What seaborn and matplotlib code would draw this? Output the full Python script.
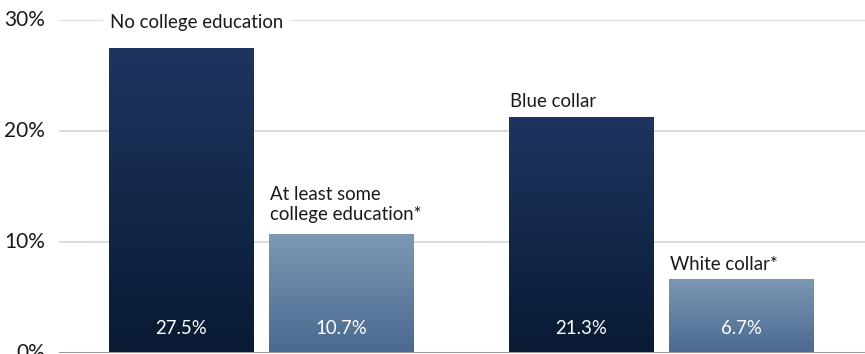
import numpy as np
import pandas as pd
import matplotlib
matplotlib.use("Agg")
import matplotlib.pyplot as plt
import seaborn as sns
from matplotlib.colors import LinearSegmentedColormap

# ---- data ----
categories = ["No college education", "At least some\ncollege education*",
              "Blue collar", "White collar*"]
values = [27.5, 10.7, 21.3, 6.7]
positions = [0, 1, 2.5, 3.5]
kinds = ["dark", "light", "dark", "light"]
value_labels = ["27.5%", "10.7%", "21.3%", "6.7%"]
yticks = [0, 10, 20, 30]
ytick_labels = ["0%", "10%", "20%", "30%"]

df = pd.DataFrame({"pos": positions, "value": values, "kind": kinds})

sns.set_theme(style="white")
plt.rcParams["font.family"] = ["Lato", "DejaVu Sans"]

W, H = 865, 354
fig = plt.figure(figsize=(W / 100, H / 100), dpi=100)
ax = fig.add_axes([59 / W, 1 / H, 1 - 59 / W, 333 / H])

sns.barplot(data=df, x="pos", y="value", native_scale=True, width=145 / 160,
            color="#1d3560", ax=ax, zorder=2, errorbar=None)

grad = {
    "dark": LinearSegmentedColormap.from_list("d", ["#0a1a33", "#1d3560"]),
    "light": LinearSegmentedColormap.from_list("l", ["#4a6990", "#7d98b4"]),
}
g = np.linspace(0, 1, 256).reshape(-1, 1)
patches = sorted(ax.patches, key=lambda p: p.get_x())
for p, kind in zip(patches, kinds):
    x0, y0 = p.get_x(), p.get_y()
    w, h = p.get_width(), p.get_height()
    p.set_facecolor("none")
    p.set_edgecolor("none")
    im = ax.imshow(g, cmap=grad[kind], origin="lower", aspect="auto",
                   extent=[x0, x0 + w, y0, y0 + h], zorder=2,
                   interpolation="bilinear")
    im.set_clip_path(p)

ax.set_xlim((59 - 181.5) / 160, (865 - 181.5) / 160)
ax.set_ylim(0, 30)

# grid
for t in yticks[1:]:
    ax.axhline(t, color="#d2d2d2", lw=1.1, zorder=1)
ax.axhline(0, color="#999999", lw=2.2, zorder=3)

for s in ax.spines.values():
    s.set_visible(False)
ax.set_xticks([])
ax.set_yticks([])
ax.set_xlabel("")
ax.set_ylabel("")

fs = 13.4
# y tick labels
for t, lab in zip(yticks, ytick_labels):
    fig.text(45 / W, (H - (353 - t * 11.1)) / H, lab, ha="right", va="center",
             fontsize=15, color="#1a1a1a")

# category labels above bars
for p, cat, v in zip(patches, categories, values):
    nlines = cat.count("\n") + 1
    if v > 25:
        # label sits on the top gridline, masking it
        ax.text(p.get_x() + 0.005, 29.8, cat, ha="left", va="center",
                fontsize=fs, color="#1a1a1a", zorder=4,
                bbox=dict(facecolor="white", edgecolor="none", pad=5))
    else:
        y = v + 0.55 + 0.45 * (nlines - 1)
        ax.text(p.get_x() + 0.005, y, cat, ha="left", va="bottom",
                fontsize=fs, color="#1a1a1a", linespacing=1.2, zorder=4)

# value labels inside bars
for p, lab in zip(patches, value_labels):
    ax.text(p.get_x() + p.get_width() / 2, 2.2, lab, ha="center",
            va="center", fontsize=fs, color="white", zorder=4)

fig.savefig("out.png", dpi=100)
